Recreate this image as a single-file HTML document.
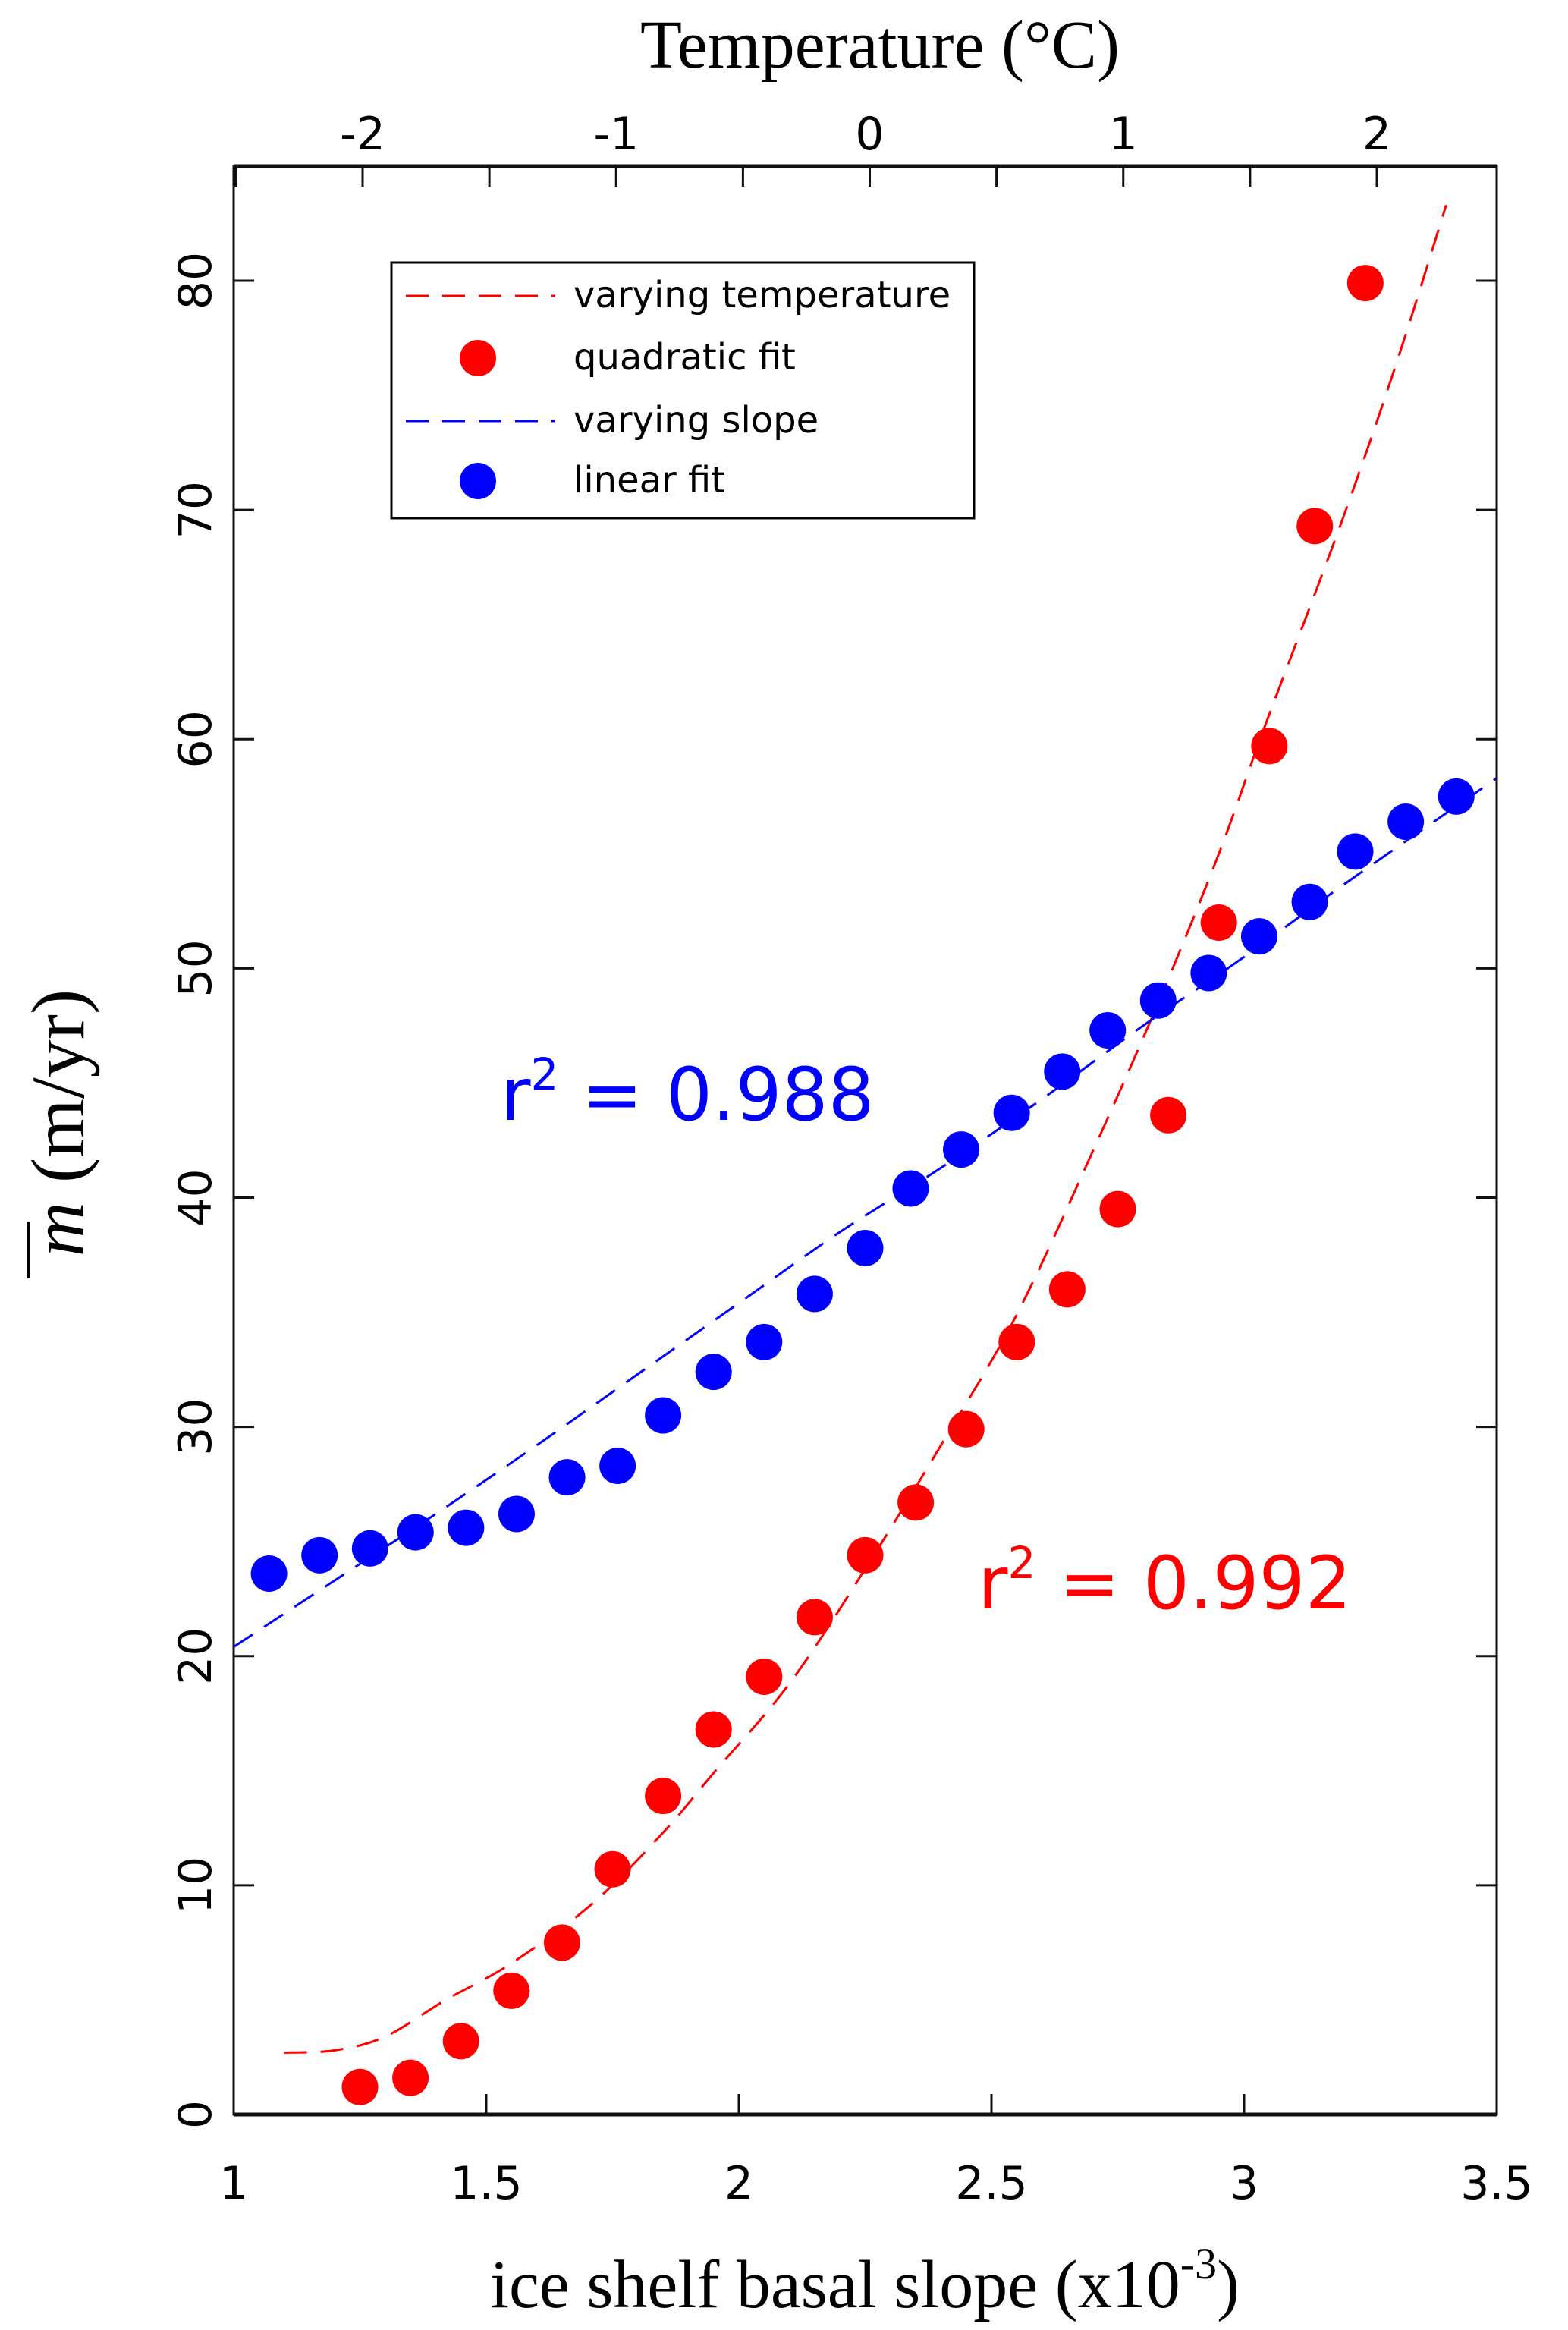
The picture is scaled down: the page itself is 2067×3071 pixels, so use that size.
<!DOCTYPE html>
<html><head><meta charset="utf-8"><style>
html,body{margin:0;padding:0;background:#fff}
svg{display:block}
text{font-family:"DejaVu Sans","Liberation Sans",sans-serif}
.serif{font-family:"Liberation Serif","DejaVu Serif",serif}
</style></head><body>
<svg id="chart" width="2067" height="3071" viewBox="0 0 2067 3071" xmlns="http://www.w3.org/2000/svg">
<rect width="2067" height="3071" fill="#fff"/>
<g id="marks"></g>
<g id="axes"></g>
<text class="serif" x="1160" y="89" font-size="90" text-anchor="middle">Temperature (°C)</text>
<text class="serif" x="1140" y="3041" font-size="90" text-anchor="middle">ice shelf basal slope (x10<tspan dy="-38" font-size="58">-3</tspan><tspan dy="38">)</tspan></text>
<g transform="translate(110,1480) rotate(-90)">
<text class="serif" x="0" y="0" font-size="100" text-anchor="middle"><tspan font-style="italic">m</tspan> (m/yr)</text>
<line x1="-205" y1="-72" x2="-130" y2="-72" stroke="#000" stroke-width="4"/>
</g>
<g>
<rect x="516" y="346" width="768" height="337" fill="#fff" stroke="#000" stroke-width="3"/>
<line x1="535" y1="390" x2="732" y2="390" stroke="#f00" stroke-width="3" stroke-dasharray="30,18"/>
<text x="756" y="405" font-size="48">varying temperature</text>
<circle cx="630" cy="472" r="24" fill="#f00"/>
<text x="756" y="487" font-size="48">quadratic fit</text>
<line x1="535" y1="555" x2="732" y2="555" stroke="#00f" stroke-width="3" stroke-dasharray="30,18"/>
<text x="756" y="570" font-size="48">varying slope</text>
<circle cx="630" cy="634" r="24" fill="#00f"/>
<text x="756" y="649" font-size="48">linear fit</text>
</g>
<text x="660" y="1476" font-size="96" fill="#00f">r<tspan dy="-40" font-size="58">2</tspan><tspan dy="40"> = 0.988</tspan></text>
<text x="1289" y="2120" font-size="96" fill="#f00">r<tspan dy="-40" font-size="58">2</tspan><tspan dy="40"> = 0.992</tspan></text>
</svg>
<script>
const blueX=[1.07,1.17,1.27,1.36,1.46,1.56,1.66,1.76,1.85,1.95,2.05,2.15,2.25,2.34,2.44,2.54,2.64,2.73,2.83,2.93,3.03,3.13,3.22,3.32,3.42];
const blueY=[23.6,24.4,24.7,25.4,25.6,26.2,27.8,28.3,30.5,32.4,33.7,35.8,37.8,40.4,42.1,43.7,45.5,47.3,48.6,49.8,51.4,52.9,55.1,56.4,57.5];
const redX=[1.25,1.35,1.45,1.55,1.65,1.75,1.85,1.95,2.05,2.15,2.25,2.35,2.45,2.55,2.65,2.75,2.85,2.95,3.05,3.14,3.24];
const redY=[1.2,1.6,3.2,5.4,7.5,10.7,13.9,16.8,19.1,21.7,24.4,26.7,29.9,33.7,36.0,39.5,43.6,52.0,59.7,69.3,79.9];
const tempCurveX=[1.1,1.2,1.3,1.42,1.55,1.71,1.85,1.95,2.1,2.25,2.4,2.55,2.7,2.83,2.95,3.04,3.19,3.3,3.4];
const tempCurveY=[2.7,2.8,3.4,5.0,6.6,9.2,12.3,14.9,18.8,23.8,29.2,34.9,42,48.5,55,60.5,69.3,76.3,83.3];
const slopeCurveX=[1.0,1.2,1.4,1.6,1.8,2.0,2.2,2.4,2.6,2.8,3.0,3.2,3.5];
const slopeCurveY=[20.4,23.3,26.2,29.2,32.3,35.4,38.5,41.3,44.3,47.5,50.5,53.7,58.3];
const xTicks=[1,1.5,2,2.5,3,3.5];
const xTickLabels=["1","1.5","2","2.5","3","3.5"];
const yTicks=[0,10,20,30,40,50,60,70,80];
const yTickLabels=["0","10","20","30","40","50","60","70","80"];
const tTicks=[-2.5,-2,-1.5,-1,-0.5,0,0.5,1,1.5,2,2.5];
const tTickLabels=["-2","-1","0","1","2"];
const tTickLabelVals=[-2,-1,0,1,2];

const L=308,R=1973,T=219,B=2787;
const sx=v=>L+(v-1)/(3.5-1)*(R-L);
const sy=v=>B-v/85*(B-T);
const st=v=>478+(v+2)/4*(1815-478);
const NS="http://www.w3.org/2000/svg";
const marks=document.getElementById('marks'), axes=document.getElementById('axes');
function mk(tag,attrs,parent){const e=document.createElementNS(NS,tag);for(const k in attrs)e.setAttribute(k,attrs[k]);parent.appendChild(e);return e;}
function smooth(xs,ys){const p=xs.map((x,i)=>[sx(x),sy(ys[i])]);let d='M'+p[0];for(let i=0;i<p.length-1;i++){const a=p[Math.max(0,i-1)],b=p[i],c=p[i+1],e=p[Math.min(p.length-1,i+2)];d+='C'+(b[0]+(c[0]-a[0])/6)+','+(b[1]+(c[1]-a[1])/6)+' '+(c[0]-(e[0]-b[0])/6)+','+(c[1]-(e[1]-b[1])/6)+' '+c[0]+','+c[1];}return d;}

const p1=mk('path',{d:smooth(tempCurveX,tempCurveY),fill:'none',stroke:'#f00','stroke-width':3,'stroke-dasharray':'30,18'},marks);


const p2=mk('path',{d:smooth(slopeCurveX,slopeCurveY),fill:'none',stroke:'#00f','stroke-width':3,'stroke-dasharray':'30,18'},marks);


blueX.forEach((x,i)=>{const c=mk('circle',{cx:sx(x),cy:sy(blueY[i]),r:24,fill:'#00f'},marks);

});
redX.forEach((x,i)=>{const c=mk('circle',{cx:sx(x),cy:sy(redY[i]),r:24,fill:'#f00'},marks);

});

const f=mk('rect',{x:L,y:T,width:R-L,height:B-T,fill:'none',stroke:'#111','stroke-width':3},axes);


mk('line',{x1:L,y1:T,x2:R,y2:T,stroke:'#111','stroke-width':5},axes);
mk('line',{x1:L,y1:B,x2:R,y2:B,stroke:'#111','stroke-width':5},axes);
xTicks.forEach((v,i)=>{mk('line',{x1:sx(v),y1:B,x2:sx(v),y2:B-27,stroke:'#111','stroke-width':3},axes);
const t=mk('text',{x:sx(v),y:2898,'font-size':60,'text-anchor':'middle'},axes);t.textContent=xTickLabels[i];

});
yTicks.forEach((v,i)=>{mk('line',{x1:L,y1:sy(v),x2:L+27,y2:sy(v),stroke:'#111','stroke-width':3},axes);
mk('line',{x1:R,y1:sy(v),x2:R-27,y2:sy(v),stroke:'#111','stroke-width':3},axes);
const t=mk('text',{x:0,y:0,'font-size':60,'text-anchor':'middle',transform:`translate(278,${sy(v)}) rotate(-90)`},axes);t.textContent=yTickLabels[i];

});
tTicks.forEach(v=>{const x=st(v);if(x>L+2&&x<R-2)mk('line',{x1:x,y1:T,x2:x,y2:T+27,stroke:'#111','stroke-width':3},axes);});
tTickLabelVals.forEach((v,i)=>{const t=mk('text',{x:st(v),y:197,'font-size':60,'text-anchor':'middle'},axes);t.textContent=tTickLabels[i];

});
</script>
</body></html>
